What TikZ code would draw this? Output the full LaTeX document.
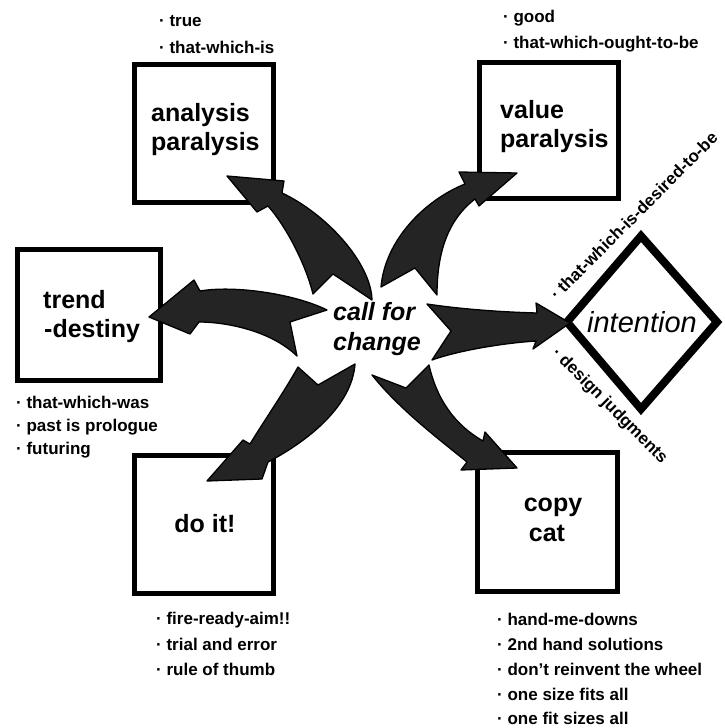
\documentclass[tikz,border=0pt]{standalone}
\usepackage{fontspec}
\setmainfont{Liberation Sans}
\begin{document}
\begin{tikzpicture}[x=1pt,y=-1pt,
  box/.style={draw=black, line width=5pt, fill=white, inner sep=0pt, outer sep=0pt},
  dia/.style={draw=black, line width=8pt, line join=miter, fill=white},
  arr/.style={fill=black!86, draw=black, line width=1.3pt, line join=round},
  lst/.style={anchor=base west, inner sep=0pt, font=\fontsize{17}{20}\selectfont\bfseries},
  lbl/.style={anchor=base west, inner sep=0pt, font=\fontsize{25}{29}\selectfont\bfseries},
  lblc/.style={anchor=base, inner sep=0pt, font=\fontsize{25}{29}\selectfont\bfseries},
  mid/.style={anchor=base west, inner sep=0pt, font=\fontsize{25}{29}\selectfont\bfseries\itshape}]
\path[use as bounding box, fill=white] (0,0) rectangle (724,728);

% boxes
\node[box, minimum width=139pt, minimum height=138pt] (ap) at (203.5,133) {};
\node[box, minimum width=139pt, minimum height=136pt] (vp) at (548.5,130) {};
\node[box, minimum width=143pt, minimum height=131pt] (td) at (88.5,314.5) {};
\node[box, minimum width=139pt, minimum height=138pt] (di) at (203.5,524) {};
\node[box, minimum width=140pt, minimum height=139pt] (cc) at (547,521.5) {};

% diamond
\coordinate (dl) at (567,322);
\coordinate (dt) at (641,236);
\coordinate (dr) at (717,322);
\coordinate (db) at (641,409);
\path[dia] (dl) -- (dt) -- (dr) -- (db) -- cycle;

% arrows
\path[arr] (372,300) .. controls (371,262) and (325,213) .. (282,193) -- (284,181) -- (227,176) -- (257,212) -- (268,206) .. controls (285,225) and (305,262) .. (313,294) -- (333,274) -- cycle;
\path[arr] (381,287) .. controls (385,240) and (425,200) .. (465,184) -- (459,172) -- (517,173) -- (479,206) -- (475,199) .. controls (445,222) and (437,258) .. (437,295) -- (415,268) -- cycle;
\path[arr] (327,310) .. controls (295,294) and (235,285) .. (200,291) -- (194,280) -- (149,317) -- (190,334) -- (199,322) .. controls (225,322) and (270,330) .. (297,356) -- (290,322) -- cycle;
\path[arr] (355,364) .. controls (352,405) and (310,440) .. (268,462) -- (262,479) -- (207,481) -- (243,440) -- (250,444) .. controls (266,418) and (284,392) .. (298,367) -- (318,385) -- cycle;
\path[arr] (427,304) .. controls (460,309) and (500,312) .. (537,313) -- (536,303) -- (570,323) -- (533,349) -- (536,341) .. controls (505,343) and (460,350) .. (432,360) -- (451,331) -- cycle;
\path[arr] (429,365) .. controls (437,400) and (455,425) .. (483,441) -- (485,432) -- (517,468) -- (461,470) -- (467,462) .. controls (440,440) and (400,410) .. (372,375) -- (406,388) -- cycle;

% box labels
\node[lbl] (ap1) at (151,121) {analysis};
\node[lbl] (ap2) at (151,150) {paralysis};
\node[lbl] (vp1) at (500,118) {value};
\node[lbl] (vp2) at (500,147) {paralysis};
\node[lbl] (td1) at (43,308) {trend};
\node[lbl] (td2) at (44,337) {-destiny};
\node[lblc] (di1) at (205,532) {do it!};
\node[lblc] (cc1) at (553,511) {copy};
\node[lblc] (cc2) at (547,541) {cat};
\node[anchor=base, inner sep=0pt, font=\fontsize{29}{32}\selectfont\itshape] (int) at (642,332) {intention};
\node[mid] (cf1) at (333,320) {call for};
\node[mid] (cf2) at (333,350) {change};

% lists
\node[lst] (l1) at (159,27) {· true};
\node[lst] (l2) at (159,53) {· that-which-is};
\node[lst] (l3) at (503,23) {· good};
\node[lst] (l4) at (503,48) {· that-which-ought-to-be};
\node[lst] (l5) at (16,408) {· that-which-was};
\node[lst] (l6) at (16,431) {· past is prologue};
\node[lst] (l7) at (16,454) {· futuring};
\node[lst] (l8) at (156,624) {· fire-ready-aim!!};
\node[lst] (l9) at (156,650) {· trial and error};
\node[lst] (l10) at (156,675) {· rule of thumb};
\node[lst] (l11) at (497,625) {· hand-me-downs};
\node[lst] (l12) at (497,650) {· 2nd hand solutions};
\node[lst] (l13) at (497,675) {· don't reinvent the wheel};
\node[lst] (l14) at (497,700) {· one size fits all};
\node[lst] (l15) at (497,724) {· one fit sizes all};
\node[lst, rotate=45] (r1) at (557,301) {· that-which-is-desired-to-be};
\node[lst, rotate=-45] (r2) at (551,354) {· design judgments};
\end{tikzpicture}
\end{document}
